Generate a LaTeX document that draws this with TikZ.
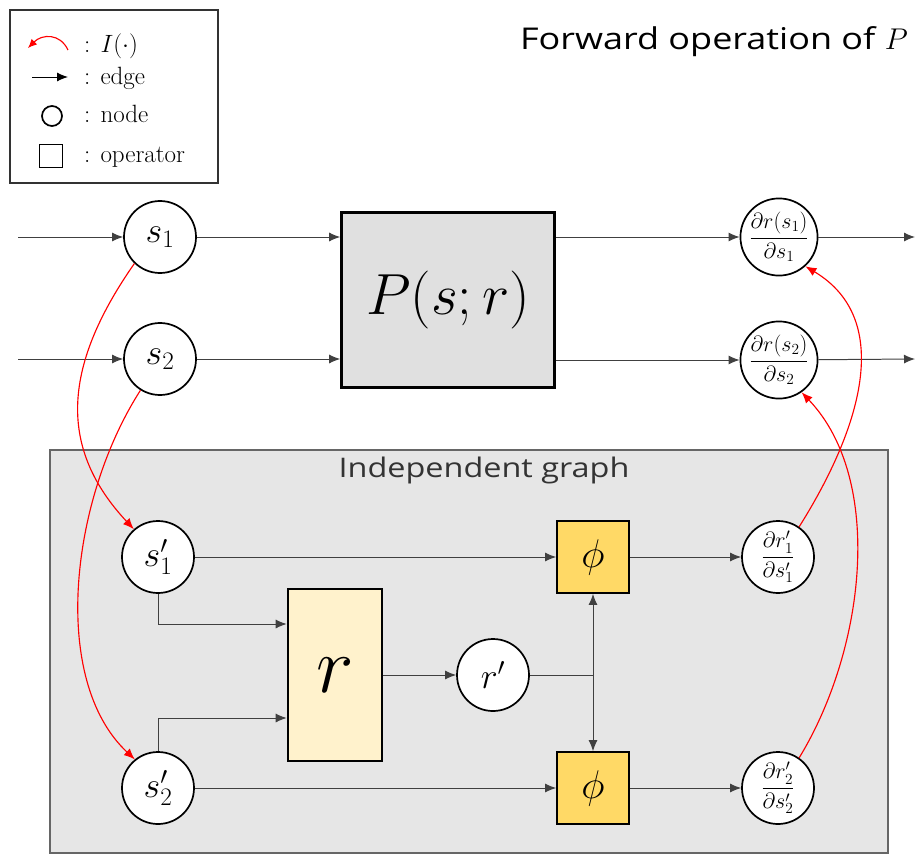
\RequirePackage{fix-cm}
\documentclass[tikz,border=0pt]{standalone}
\usepackage{fontspec}
\newfontfamily\labelfont[FakeStretch=1.2]{Open Sans}
\usetikzlibrary{arrows.meta,calc}

\definecolor{pgray}{HTML}{E0E0E0}
\definecolor{iggray}{HTML}{E6E6E6}
\definecolor{rcream}{HTML}{FFF2CC}
\definecolor{phigold}{HTML}{FFD966}

\tikzset{
	nd/.style={circle, draw=black, line width=0.6mm, fill=white, minimum size=72pt, inner sep=0pt, font=\fontsize{36}{40}\selectfont},
	fracnd/.style={nd, font=\fontsize{22}{24}\selectfont},
	opbox/.style={draw=black, line width=0.9mm, inner sep=0pt},
	plainline/.style={draw=black!75, line width=0.35mm},
	edge/.style={plainline, -{Latex[length=11pt,width=9pt]}},
	imap/.style={draw=red, line width=0.4mm, -{Latex[length=11pt,width=9pt]}},
	lgtext/.style={anchor=base west, inner sep=0pt, font=\fontsize{25}{28}\selectfont},
}

\begin{document}
\begin{tikzpicture}[x=1pt, y=1pt]
			%%%%% START %%%%%
			\useasboundingbox (0,0) rectangle (920,-856);
			
			% legend
			\draw[line width=0.5mm, color=black!80, fill=white] (10,-10) rectangle (218,-183);
			\coordinate (lgIa) at (68,-50);
			\coordinate (lgIb) at (28,-48);
			\draw[imap, -{Latex[length=9pt,width=8pt]}] (lgIa) .. controls (60,-33) and (42,-34) .. (lgIb);
			\coordinate (lgEa) at (32,-77);
			\coordinate (lgEb) at (68,-77);
			\draw[edge, draw=black] (lgEa) -- (lgEb);
			\node[circle, draw, line width=0.6mm, minimum size=20pt, inner sep=0pt] (lgN) at (52,-116) {};
			\node[draw, line width=0.6mm, minimum size=23pt, inner sep=0pt] (lgO) at (51,-156) {};
			\node[lgtext] (lgIt) at (84,-53) {: $I(\cdot)$};
			\node[lgtext] (lgEt) at (84,-85) {: edge};
			\node[lgtext] (lgNt) at (84,-122) {: node};
			\node[lgtext] (lgOt) at (84,-162) {: operator};
			
			\node[anchor=base east, inner sep=0pt, font=\labelfont\fontsize{30}{36}\selectfont] (title) at (908,-50) {Forward operation of $P$};
			
			% forward part
			\coordinate (in1) at (18,-237);
			\coordinate (in2) at (18,-359);
			\coordinate (end1) at (915,-237);
			\coordinate (end2) at (915,-359);
			
			\node[nd] (s1) at (160,-237) {$s_1$};
			\node[nd] (s2) at (160,-359) {$s_2$};
			\node[opbox, fill=pgray, minimum width=213pt, minimum height=175pt, font=\fontsize{58}{62}\selectfont] (P) at (448,-300) {$P(s;r)$};
			\node[fracnd] (o1) at (779,-237) {$\displaystyle\frac{\partial r(s_1)}{\partial s_1}$};
			\node[fracnd] (o2) at (779,-360) {$\displaystyle\frac{\partial r(s_2)}{\partial s_2}$};
			
			\draw[edge] (in1) -- (s1);
			\draw[edge] (in2) -- (s2);
			\draw[edge] (s1) -- (P.west |- s1);
			\draw[edge] (s2) -- (P.west |- s2);
			\draw[edge] (P.east |- o1) -- (o1);
			\draw[edge] (P.east |- o2) -- (o2);
			\draw[edge] (o1) -- (end1);
			\draw[edge] (o2) -- (end2);
			
			% independent graph
			\draw[line width=0.6mm, color=black!60, fill=iggray] (50,-450) rectangle (888,-853);
			\node[anchor=base, inner sep=0pt, font=\labelfont\fontsize{27}{32}\selectfont, color=black!80] (igTitle) at (484,-477) {Independent graph};
			
			\node[nd] (s1p) at (158,-557) {$s'_1$};
			\node[nd] (s2p) at (158,-788) {$s'_2$};
			\node[opbox, fill=rcream, minimum width=94pt, minimum height=172pt, font=\fontsize{80}{84}\selectfont] (r) at (335,-675) {$r$};
			\node[nd] (rp) at (493,-675) {$r'$};
			\node[opbox, line width=0.6mm, fill=phigold, minimum size=72pt, font=\fontsize{40}{44}\selectfont] (phi1) at (593,-557) {$\phi$};
			\node[opbox, line width=0.6mm, fill=phigold, minimum size=72pt, font=\fontsize{40}{44}\selectfont] (phi2) at (593,-788) {$\phi$};
			\node[fracnd] (o1p) at (778,-557) {$\displaystyle\frac{\partial r'_1}{\partial s'_1}$};
			\node[fracnd] (o2p) at (778,-788) {$\displaystyle\frac{\partial r'_2}{\partial s'_2}$};
			\coordinate (jn) at (phi1 |- rp);
			
			\draw[edge] (s1p) -- (phi1);
			\draw[edge] (s2p) -- (phi2);
			\draw[edge] (s1p.south) |- ([yshift=51pt]r.west);
			\draw[edge] (s2p.north) |- ([yshift=-43pt]r.west);
			\draw[edge] (r) -- (rp);
			\draw[plainline] (rp) -- (jn);
			\draw[edge] (jn) -- (phi1);
			\draw[edge] (jn) -- (phi2);
			\draw[edge] (phi1) -- (o1p);
			\draw[edge] (phi2) -- (o2p);
			
			% I(.) maps
			\draw[imap] (s1.226) .. controls (60,-370) and (60,-450) .. (s1p.131);
			\draw[imap] (s2.238) .. controls (70,-500) and (50,-680) .. (s2p.129);
			\draw[imap] (o1p.55) .. controls (860,-430) and (895,-320) .. (o1.312);
			\draw[imap] (o2p.55) .. controls (865,-650) and (885,-480) .. (o2.305);
			
			%%%%% END %%%%%
\end{tikzpicture}
\end{document}
